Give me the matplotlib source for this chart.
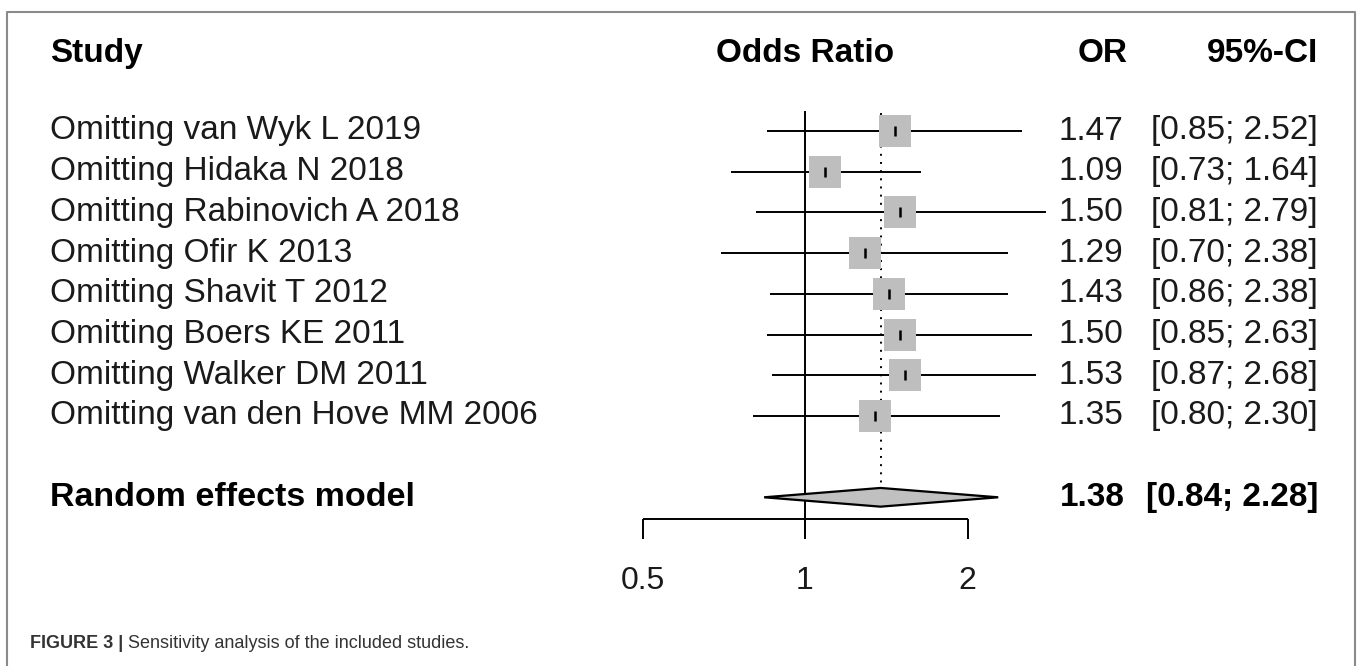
import numpy as np
import matplotlib.pyplot as plt
from matplotlib.patches import Polygon

plt.rcParams['font.family'] = ['Liberation Sans', 'DejaVu Sans']

# data
studies = ["Omitting van Wyk L 2019", "Omitting Hidaka N 2018", "Omitting Rabinovich A 2018",
           "Omitting Ofir K 2013", "Omitting Shavit T 2012", "Omitting Boers KE 2011",
           "Omitting Walker DM 2011", "Omitting van den Hove MM 2006"]
or_vals = [1.47, 1.09, 1.50, 1.29, 1.43, 1.50, 1.53, 1.35]
ci_low = [0.85, 0.73, 0.81, 0.70, 0.86, 0.85, 0.87, 0.80]
ci_high = [2.52, 1.64, 2.79, 2.38, 2.38, 2.63, 2.68, 2.30]
pooled = 1.38
pooled_low = 0.84
pooled_high = 2.28
ticks = [0.5, 1, 2]
tick_labels = ["0.5", "1", "2"]

W, H = 1357, 666
fig = plt.figure(figsize=(W / 100, H / 100), dpi=100)
ax = fig.add_axes([0, 0, 1, 1])
ax.set_xscale('log')
# pixel layout: x=1 at 805 px, 162.5 px per doubling; row 0 at 131 px, 40.7 px per row
x0, per2 = 805, 162.5
ax.set_xlim(2 ** (-x0 / per2), 2 ** ((W - x0) / per2))
r0, dr = 131, 40.7
ax.set_ylim((H - r0) / dr, -r0 / dr)
ax.axis('off')

rows = np.arange(len(studies))
sum_row = len(studies) + 1
axis_row = sum_row + 0.53
fs = 24
txt = '#1a1a1a'
left = 50 / W
trans = ax.get_yaxis_transform()  # x in axes fraction, y in data

# reference line at 1 and dotted line at pooled estimate
ax.vlines(1, -0.49, axis_row + 0.49, color='black', lw=1.4)
ax.vlines(pooled, -0.44, sum_row - 0.23, color='black', lw=1.4, linestyles=(0, (1, 3.2)))

# study CIs and squares
ax.hlines(rows, ci_low, ci_high, color='black', lw=1.4, zorder=2)
ax.scatter(or_vals, rows, marker='s', s=530, color='#bebebe', linewidths=0, zorder=3)
ax.plot(or_vals, rows, ls='none', marker='|', ms=6.5, mew=1.8, color='black', zorder=4)

# pooled diamond
h = 0.23
ax.add_patch(Polygon([(pooled_low, sum_row), (pooled, sum_row - h), (pooled_high, sum_row),
                      (pooled, sum_row + h)], closed=True, facecolor='#c0c0c0',
                     edgecolor='black', lw=1.6, zorder=3))

# x axis
ax.hlines(axis_row, ticks[0], ticks[-1], color='black', lw=1.4)
ax.vlines(ticks, axis_row, axis_row + 0.49, color='black', lw=1.4)
for t, lab in zip(ticks, tick_labels):
    ax.text(t, axis_row + 1.52, lab, ha='center', va='center', fontsize=23, color=txt)

# headers
hdr = -1.9
ax.text(left, hdr, "Study", transform=trans, fontsize=fs, fontweight='bold', va='center')
ax.text(1, hdr, "Odds Ratio", ha='center', va='center', fontsize=fs, fontweight='bold')
ax.text(1128 / W, hdr, "OR", transform=trans, ha='right', va='center', fontsize=fs, fontweight='bold')
ax.text(1318 / W, hdr, "95%-CI", transform=trans, ha='right', va='center', fontsize=fs, fontweight='bold')

# study rows
for r, name, o, lo, hi in zip(rows, studies, or_vals, ci_low, ci_high):
    ax.text(left, r, name, transform=trans, va='center', fontsize=fs, color=txt)
    ax.text(1123 / W, r, f"{o:.2f}", transform=trans, ha='right', va='center', fontsize=fs, color=txt)
    ax.text(1318 / W, r, f"[{lo:.2f}; {hi:.2f}]", transform=trans, ha='right', va='center',
            fontsize=fs, color=txt)

ax.text(left, sum_row, "Random effects model", transform=trans, va='center', fontsize=24.5,
        fontweight='bold')
ax.text(1125 / W, sum_row, f"{pooled:.2f}", transform=trans, ha='right', va='center', fontsize=fs,
        fontweight='bold')
ax.text(1318 / W, sum_row, f"[{pooled_low:.2f}; {pooled_high:.2f}]", transform=trans, ha='right',
        va='center', fontsize=fs, fontweight='bold')

# frame and caption
fig.add_artist(plt.Line2D([7 / W, 7 / W, 1355 / W, 1355 / W], [0, 1 - 12 / H, 1 - 12 / H, 0],
                          color='#8a8a8a', lw=1.5))
cap_y = 1 - 643 / H
t1 = fig.text(30 / W, cap_y, "FIGURE 3 |", fontsize=13, fontweight='bold', va='center', color='#333333')
fig.canvas.draw()
bb = t1.get_window_extent()
fig.text((bb.x1 + 5) / W, cap_y, "Sensitivity analysis of the included studies.", fontsize=13,
         va='center', color='#333333')

fig.savefig("out.png", dpi=100)
